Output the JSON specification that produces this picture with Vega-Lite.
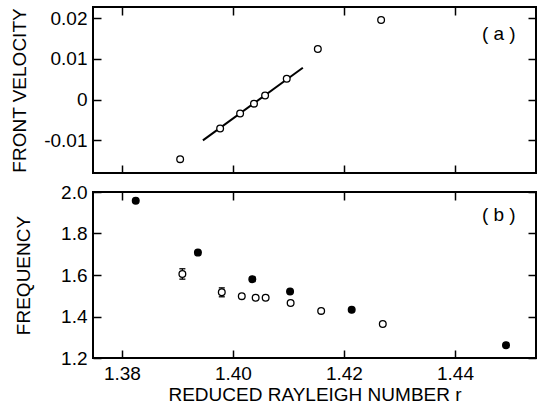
{
  "$schema": "https://vega.github.io/schema/vega-lite/v6.json",
  "background": "white",
  "padding": {"left": 9, "top": 5, "right": 1, "bottom": 2},
  "spacing": 7,
  "config": {
    "font": "Liberation Sans",
    "view": {"stroke": "black", "strokeWidth": 2},
    "axis": {
      "grid": false, "domain": false,
      "tickColor": "black", "tickWidth": 1.5, "tickSize": -8,
      "labelFontSize": 19, "titleFontSize": 19, "titleFontWeight": "normal",
      "labelColor": "black", "titleColor": "black", "labelPadding": 14,
      "labelFont": "Liberation Sans", "titleFont": "Liberation Sans"
    }
  },
  "vconcat": [
    {
      "width": 443, "height": 166,
      "layer": [
        {
          "data": {"values": [{"r": 1.3946, "v": -0.01}, {"r": 1.4126, "v": 0.0078}]},
          "mark": {"type": "line", "color": "black", "strokeWidth": 2},
          "encoding": {
            "x": {"field": "r", "type": "quantitative", "scale": {"domain": [1.3748, 1.4546], "nice": false, "zero": false},
                  "axis": {"orient": "top", "labels": false, "title": null, "values": [1.38, 1.40, 1.42, 1.44]}},
            "y": {"field": "v", "type": "quantitative", "scale": {"domain": [-0.018, 0.0227], "nice": false, "zero": false},
                  "axis": {"orient": "right", "labels": false, "title": null, "values": [-0.01, 0, 0.01, 0.02]}}
          }
        },
        {
          "data": {"values": [
            {"r": 1.3905, "v": -0.0146},
            {"r": 1.3977, "v": -0.0071},
            {"r": 1.4013, "v": -0.0034},
            {"r": 1.4038, "v": -0.0010},
            {"r": 1.4058, "v": 0.0010},
            {"r": 1.4097, "v": 0.0051},
            {"r": 1.4153, "v": 0.0124},
            {"r": 1.4267, "v": 0.0195}
          ]},
          "mark": {"type": "point", "shape": "circle", "filled": true, "fill": "white", "stroke": "black", "strokeWidth": 1.3, "size": 45, "opacity": 1},
          "encoding": {
            "x": {"field": "r", "type": "quantitative", "scale": {"domain": [1.3748, 1.4546], "nice": false, "zero": false},
                  "axis": {"orient": "bottom", "labels": false, "title": null, "values": [1.38, 1.40, 1.42, 1.44]}},
            "y": {"field": "v", "type": "quantitative", "scale": {"domain": [-0.018, 0.0227], "nice": false, "zero": false},
                  "axis": {"orient": "left", "values": [-0.01, 0, 0.01, 0.02], "title": "FRONT VELOCITY", "titlePadding": 14,
                           "labelExpr": "datum.value == 0 ? '0' : replace(format(datum.value, '.2f'), '\u2212', '-')"}}
          }
        },
        {
          "data": {"values": [{"label": "( a )"}]},
          "mark": {"type": "text", "fontSize": 19, "font": "Liberation Sans", "color": "black"},
          "encoding": {
            "x": {"datum": 1.4479, "type": "quantitative", "axis": null},
            "y": {"datum": 0.0161, "type": "quantitative", "axis": null},
            "text": {"field": "label"}
          }
        }
      ]
    },
    {
      "width": 443, "height": 166,
      "layer": [
        {
          "data": {"values": [{"r": 1.3909, "lo": 1.58, "hi": 1.63}, {"r": 1.398, "lo": 1.495, "hi": 1.538}]},
          "mark": {"type": "rule", "color": "black", "strokeWidth": 1.3},
          "encoding": {
            "x": {"field": "r", "type": "quantitative", "scale": {"domain": [1.3748, 1.4546], "nice": false, "zero": false},
                  "axis": {"orient": "top", "labels": false, "title": null, "values": [1.38, 1.40, 1.42, 1.44]}},
            "y": {"field": "lo", "type": "quantitative", "scale": {"domain": [1.2, 2.0], "nice": false, "zero": false},
                  "axis": {"orient": "right", "labels": false, "title": null, "values": [1.2, 1.4, 1.6, 1.8, 2.0]}},
            "y2": {"field": "hi"}
          }
        },
        {
          "data": {"values": [{"r": 1.3909, "e": 1.58}, {"r": 1.3909, "e": 1.63}, {"r": 1.398, "e": 1.495}, {"r": 1.398, "e": 1.538}]},
          "mark": {"type": "tick", "orient": "horizontal", "color": "black", "thickness": 1.3, "size": 6, "opacity": 1},
          "encoding": {
            "x": {"field": "r", "type": "quantitative", "axis": null},
            "y": {"field": "e", "type": "quantitative", "axis": null}
          }
        },
        {
          "data": {"values": [
            {"r": 1.3825, "f": 1.958, "type": "filled"},
            {"r": 1.3937, "f": 1.708, "type": "filled"},
            {"r": 1.4035, "f": 1.580, "type": "filled"},
            {"r": 1.4103, "f": 1.520, "type": "filled"},
            {"r": 1.4214, "f": 1.432, "type": "filled"},
            {"r": 1.4492, "f": 1.262, "type": "filled"},
            {"r": 1.3909, "f": 1.605, "type": "open"},
            {"r": 1.3980, "f": 1.517, "type": "open"},
            {"r": 1.4016, "f": 1.498, "type": "open"},
            {"r": 1.4041, "f": 1.490, "type": "open"},
            {"r": 1.4059, "f": 1.490, "type": "open"},
            {"r": 1.4104, "f": 1.465, "type": "open"},
            {"r": 1.4159, "f": 1.427, "type": "open"},
            {"r": 1.4270, "f": 1.364, "type": "open"}
          ]},
          "mark": {"type": "point", "shape": "circle", "filled": true, "stroke": "black", "strokeWidth": 1.3, "size": 45, "opacity": 1},
          "encoding": {
            "x": {"field": "r", "type": "quantitative",
                  "axis": {"orient": "bottom", "values": [1.38, 1.40, 1.42, 1.44], "format": ".2f", "title": "REDUCED RAYLEIGH NUMBER r", "titlePadding": 2}},
            "y": {"field": "f", "type": "quantitative",
                  "axis": {"orient": "left", "values": [1.2, 1.4, 1.6, 1.8, 2.0], "format": ".1f", "title": "FREQUENCY", "titlePadding": 27}},
            "fill": {"field": "type", "type": "nominal", "scale": {"domain": ["open", "filled"], "range": ["white", "black"]}, "legend": null}
          }
        },
        {
          "data": {"values": [{"label": "( b )"}]},
          "mark": {"type": "text", "fontSize": 19, "font": "Liberation Sans", "color": "black"},
          "encoding": {
            "x": {"datum": 1.4479, "type": "quantitative", "axis": null},
            "y": {"datum": 1.888, "type": "quantitative", "axis": null},
            "text": {"field": "label"}
          }
        }
      ]
    }
  ]
}
